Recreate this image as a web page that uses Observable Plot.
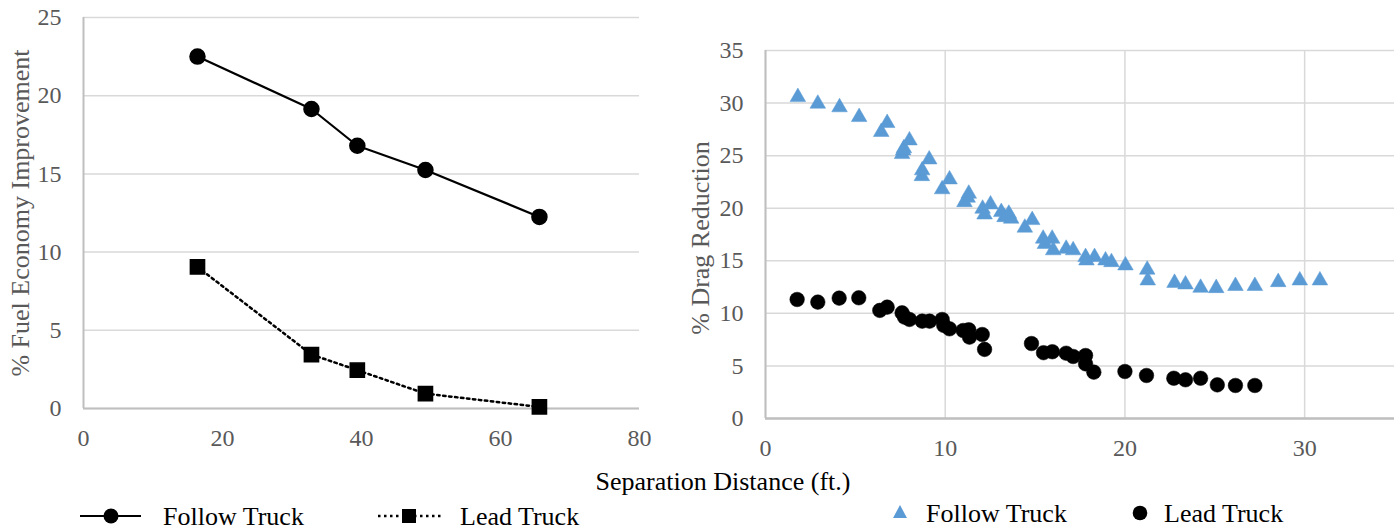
<!DOCTYPE html>
<html>
<head>
<meta charset="utf-8">
<script src="https://cdn.jsdelivr.net/npm/d3@7"></script>
<script src="https://cdn.jsdelivr.net/npm/@observablehq/plot@0.6"></script>
</head>
<body style="margin:0;padding:0;background:#fff;font-family:'Times New Roman', 'Liberation Serif', Tinos, 'DejaVu Serif', serif">
<div id="wrap" style="position:relative;width:1395px;height:531px;overflow:hidden;background:#fff"></div>
<script>
// ---- Left chart data: fuel economy improvement vs separation distance ----
const fuelDistance = [16.4, 32.8, 39.4, 49.2, 65.6];
const fuelFollow   = [22.5, 19.15, 16.8, 15.25, 12.25];
const fuelLead     = [9.05, 3.45, 2.45, 0.95, 0.1];
const fuelXTicks   = [0, 20, 40, 60, 80];
const fuelYTicks   = [0, 5, 10, 15, 20, 25];

// ---- Right chart data: drag reduction vs separation distance ----
const dragFollowX = [1.8, 2.91, 4.12, 5.21, 6.44, 6.77, 7.6, 7.66, 7.7, 8.01, 8.7, 8.72, 9.11, 9.83, 10.24,
  11.07, 11.25, 11.31, 12.08, 12.19, 12.52, 13.12, 13.3, 13.54, 13.67, 14.43, 14.84, 15.45, 15.55, 15.95, 16.01,
  16.73, 17.12, 17.81, 17.86, 18.31, 18.92, 19.25, 20.03, 21.24, 21.27, 22.76, 23.37, 24.21, 25.08, 26.15,
  27.23, 28.53, 29.73, 30.85];
const dragFollowY = [30.57, 29.94, 29.6, 28.67, 27.25, 28.1, 25.15, 25.5, 25.7, 26.45, 23.05, 23.6, 24.64, 21.8, 22.74,
  20.58, 21.0, 21.38, 19.95, 19.4, 20.36, 19.63, 19.15, 19.47, 19.0, 18.15, 18.87, 17.1, 16.6, 17.1, 16.0,
  16.14, 16.0, 15.35, 15.03, 15.35, 15.03, 14.87, 14.56, 14.15, 13.13, 12.9, 12.75, 12.43, 12.4, 12.6,
  12.6, 12.97, 13.13, 13.13];
const dragLeadX = [1.76, 2.91, 4.1, 5.19, 6.36, 6.77, 7.6, 7.74, 8.01, 8.72, 9.13, 9.83, 9.92, 10.24, 11.0,
  11.31, 11.35, 12.06, 12.19, 14.8, 15.47, 15.96, 16.73, 17.12, 17.81, 17.81, 18.27, 20.0, 21.2, 22.72,
  23.37, 24.21, 25.14, 26.15, 27.23];
const dragLeadY = [11.32, 11.07, 11.45, 11.48, 10.28, 10.59, 10.05, 9.64, 9.42, 9.26, 9.26, 9.42, 8.85, 8.53, 8.37,
  8.44, 7.74, 7.99, 6.57, 7.13, 6.26, 6.35, 6.21, 5.9, 5.99, 5.2, 4.41, 4.47, 4.09, 3.83,
  3.68, 3.83, 3.2, 3.14, 3.14];
const dragXTicks = [0, 10, 20, 30];
const dragYTicks = [0, 5, 10, 15, 20, 25, 30, 35];

// ---- Text ----
const fuelYTitle = "% Fuel Economy Improvement";
const dragYTitle = "% Drag Reduction";
const xTitle = "Separation Distance (ft.)";
const seriesNames = ["Follow Truck", "Lead Truck"];

const FONT = "'Times New Roman', 'Liberation Serif', Tinos, 'DejaVu Serif', serif";
const GRID = "#d9d9d9";
const AXIS = "#bfbfbf";
const TICK = "#595959";
const BLUE = "#5B9BD5";

const fuelFollowRows = fuelDistance.map((d, i) => ({x: d, y: fuelFollow[i]}));
const fuelLeadRows = fuelDistance.map((d, i) => ({x: d, y: fuelLead[i]}));
const dragFollowRows = dragFollowX.map((d, i) => ({x: d, y: dragFollowY[i]}));
const dragLeadRows = dragLeadX.map((d, i) => ({x: d, y: dragLeadY[i]}));

const wrap = document.getElementById("wrap");

// Left chart
const left = Plot.plot({
  width: 660, height: 455,
  marginLeft: 83, marginRight: 21, marginTop: 17, marginBottom: 47,
  style: {fontFamily: FONT, fontSize: "24px", color: TICK},
  x: {domain: [0, 80], ticks: fuelXTicks},
  y: {domain: [0, 25], ticks: fuelYTicks},
  marks: [
    Plot.gridY(fuelYTicks, {stroke: GRID, strokeOpacity: 1, strokeWidth: 1.5}),
    Plot.ruleX([0], {stroke: AXIS, strokeWidth: 2}),
    Plot.ruleY([0], {stroke: AXIS, strokeWidth: 2}),
    Plot.axisX(fuelXTicks, {tickSize: 0, tickPadding: 20, label: null, fill: TICK, fontFamily: FONT}),
    Plot.axisY(fuelYTicks, {tickSize: 0, tickPadding: 22, label: null, fill: TICK, fontFamily: FONT}),
    Plot.line(fuelFollowRows, {x: "x", y: "y", stroke: "#000", strokeWidth: 2.2}),
    Plot.line(fuelLeadRows, {x: "x", y: "y", stroke: "#000", strokeWidth: 2.5, strokeDasharray: "2.5 3.5"}),
    Plot.dot(fuelFollowRows, {x: "x", y: "y", r: 7.5, fill: "#000", stroke: "#000"}),
    Plot.dot(fuelLeadRows, {x: "x", y: "y", symbol: "square", r: 8, fill: "#000", stroke: "#000"})
  ]
});
left.style.position = "absolute"; left.style.left = "0px"; left.style.top = "0px";
wrap.appendChild(left);

// Right chart
const right = Plot.plot({
  width: 695, height: 462,
  marginLeft: 65, marginRight: 1, marginTop: 50, marginBottom: 44,
  style: {fontFamily: FONT, fontSize: "24px", color: TICK},
  x: {domain: [0, 35], ticks: dragXTicks},
  y: {domain: [0, 35], ticks: dragYTicks},
  marks: [
    Plot.gridY(dragYTicks, {stroke: GRID, strokeOpacity: 1, strokeWidth: 1.5}),
    Plot.gridX(dragXTicks, {stroke: GRID, strokeOpacity: 1, strokeWidth: 1.5}),
    Plot.ruleX([0], {stroke: AXIS, strokeWidth: 2}),
    Plot.ruleY([0], {stroke: AXIS, strokeWidth: 2.5}),
    Plot.axisX(dragXTicks, {tickSize: 0, tickPadding: 20, label: null, fill: TICK, fontFamily: FONT}),
    Plot.axisY(dragYTicks, {tickSize: 0, tickPadding: 22, label: null, fill: TICK, fontFamily: FONT}),
    Plot.dot(dragFollowRows, {x: "x", y: "y", symbol: "triangle", r: 5.8, fill: BLUE, stroke: BLUE, strokeWidth: 0.5}),
    Plot.dot(dragLeadRows, {x: "x", y: "y", r: 7.3, fill: "#000", stroke: "#000", strokeWidth: 0.5})
  ]
});
right.style.position = "absolute"; right.style.left = "700px"; right.style.top = "0px";
wrap.appendChild(right);

// Axis titles (HTML text)
function addTitle(text, x, y, rotate, color) {
  const d = document.createElement("div");
  d.textContent = text;
  d.style.position = "absolute";
  d.style.whiteSpace = "nowrap";
  d.style.fontFamily = FONT;
  d.style.fontSize = "26px";
  d.style.lineHeight = "1";
  d.style.color = color;
  d.style.left = x + "px"; d.style.top = y + "px";
  d.style.transform = "translate(-50%, -50%)" + (rotate ? " rotate(-90deg)" : "");
  wrap.appendChild(d);
}
addTitle(fuelYTitle, 21, 213, true, TICK);
addTitle(dragYTitle, 701, 238, true, TICK);
addTitle(xTitle, 723, 482, false, "#000");

// Legends (below the charts)
const ns = "http://www.w3.org/2000/svg";
const leg = document.createElementNS(ns, "svg");
leg.setAttribute("width", 1395); leg.setAttribute("height", 37);
leg.style.position = "absolute"; leg.style.left = "0px"; leg.style.top = "494px";
function el(tag, attrs) {
  const e = document.createElementNS(ns, tag);
  for (const k in attrs) e.setAttribute(k, attrs[k]);
  leg.appendChild(e); return e;
}
function label(x, y, t) {
  const e = el("text", {x, y, "font-size": 26, fill: "#000", "font-family": FONT});
  e.textContent = t;
}
const ly = 22;
el("line", {x1: 80, x2: 141, y1: ly, y2: ly, stroke: "#000", "stroke-width": 2.2});
el("circle", {cx: 111, cy: ly, r: 7.5, fill: "#000"});
label(163, ly + 9, seriesNames[0]);
el("line", {x1: 378, x2: 441, y1: ly, y2: ly, stroke: "#000", "stroke-width": 2.5, "stroke-dasharray": "2.5 3.5"});
el("rect", {x: 402, y: ly - 7, width: 14, height: 14, fill: "#000"});
label(460, ly + 9, seriesNames[1]);
const ry = 19;
el("path", {d: `M900,${ry - 8} L907,${ry + 5} L893,${ry + 5} Z`, fill: BLUE});
label(926, ry + 9, seriesNames[0]);
el("circle", {cx: 1140, cy: ry, r: 7.3, fill: "#000"});
label(1164, ry + 9, seriesNames[1]);
wrap.appendChild(leg);
</script>
</body>
</html>
